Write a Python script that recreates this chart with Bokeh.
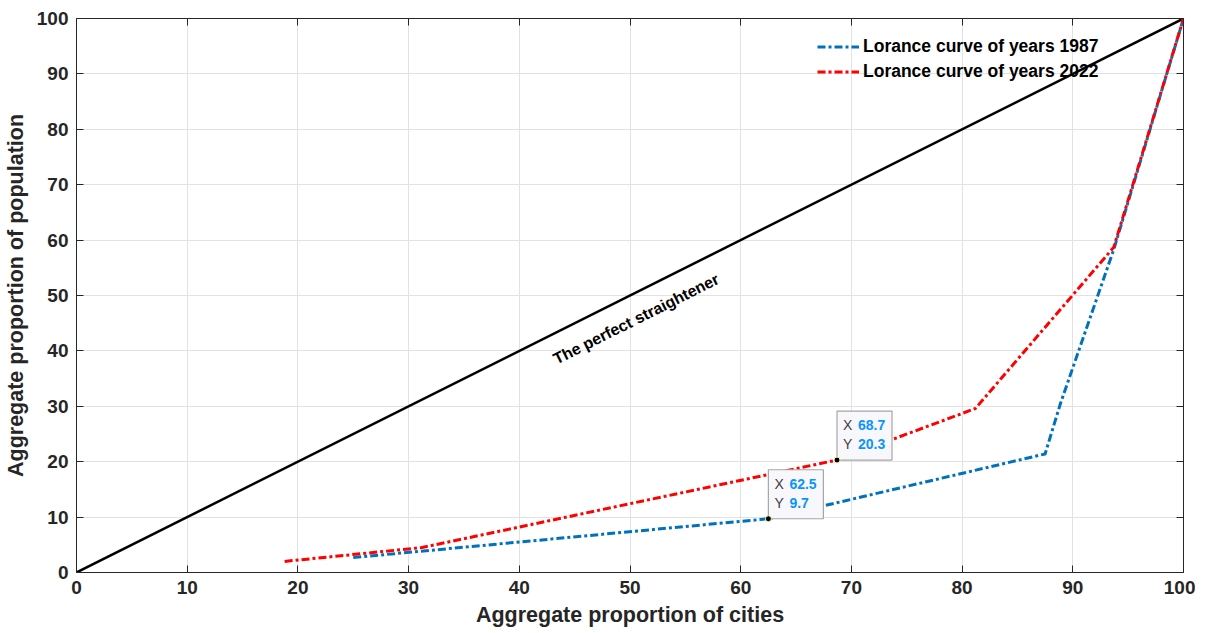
from bokeh.plotting import figure
from bokeh.models import Range1d, LinearAxis, Legend, LegendItem, FixedTicker
from bokeh.core.properties import value
from bokeh.embed import file_html
from bokeh.resources import INLINE
import math

# ---- data ----
x_1987 = [25.0, 62.5, 87.5, 88.9, 93.7, 100.0]
y_1987 = [2.7, 9.7, 21.4, 30.6, 58.3, 100.0]
x_2022 = [18.8, 31.2, 68.7, 81.2, 93.7, 100.0]
y_2022 = [2.0, 4.5, 20.3, 29.6, 58.7, 100.0]
diag_x = [0, 100]
diag_y = [0, 100]
tip_x = [62.5, 68.7]
tip_y = [9.7, 20.3]
ticks = [0, 10, 20, 30, 40, 50, 60, 70, 80, 90, 100]
diag_label = "The perfect straightener"
label_1987 = "Lorance curve of years 1987"
label_2022 = "Lorance curve of years 2022"

FONT = "Liberation Sans"
FW, FH = 1107, 554
AX = "#262626"

p = figure(frame_width=FW, frame_height=FH, output_backend="svg", toolbar_location=None,
           x_range=Range1d(0, 100), y_range=Range1d(0, 100),
           min_border_left=72, min_border_right=12, min_border_top=18, min_border_bottom=40)
p.outline_line_color = None
p.background_fill_color = "white"

p.xaxis.axis_label = "Aggregate proportion of cities"
p.yaxis.axis_label = "Aggregate proportion of population"
for ax in (p.xaxis[0], p.yaxis[0]):
    ax.ticker = FixedTicker(ticks=ticks)
    ax.minor_tick_line_color = None
    ax.major_tick_in = 7
    ax.major_tick_out = 0
    ax.axis_line_color = AX
    ax.major_tick_line_color = AX
    ax.major_label_text_font = FONT
    ax.major_label_text_font_style = "bold"
    ax.major_label_text_font_size = "19px"
    ax.major_label_text_color = AX
    ax.major_label_standoff = 8
    ax.axis_label_text_font = FONT
    ax.axis_label_text_font_style = "bold"
    ax.axis_label_text_font_size = "21.5px"
    ax.axis_label_text_color = AX
    ax.axis_label_standoff = 6

for loc in ("right", "above"):
    ax = LinearAxis(ticker=FixedTicker(ticks=ticks))
    ax.major_label_overrides = {t: "" for t in ticks}
    ax.major_label_standoff = 0
    ax.minor_tick_line_color = None
    ax.major_tick_in = 7
    ax.major_tick_out = 0
    ax.axis_line_color = AX
    ax.major_tick_line_color = AX
    p.add_layout(ax, loc)

for g in (p.xgrid[0], p.ygrid[0]):
    g.ticker = FixedTicker(ticks=ticks)
    g.grid_line_color = "#E2E2E2"
    g.grid_line_width = 1

p.line(diag_x, diag_y, line_color="black", line_width=2.5)
r87 = p.line(x_1987, y_1987, line_color="#0072BD", line_width=3, line_dash="8 3 3 3")
r22 = p.line(x_2022, y_2022, line_color="#FF0000", line_width=3, line_dash="8 3 3 3")

# diagonal label
p.text(x=[43.5], y=[37.0], text=[diag_label], angle=math.atan2(FH, FW),
       text_font=value(FONT), text_font_style="bold", text_font_size="16px",
       text_color="black", text_align="left", text_baseline="bottom")

# data tips
dx = 100.0 / FW
dy = 100.0 / FH
bw, bh = 55, 49
p.quad(left=tip_x, right=[x + bw * dx for x in tip_x],
       bottom=tip_y, top=[y + bh * dy for y in tip_y],
       fill_color="#F8F8FC", line_color="#A6A6A6", line_width=1.2)
p.scatter(tip_x, tip_y, size=6, fill_color="black", line_color="#FFF6B0", line_width=1)
for off, lab, vals in ((35, "X", tip_x), (16, "Y", tip_y)):
    ty = [y + off * dy for y in tip_y]
    p.text(x=[x + 6 * dx for x in tip_x], y=ty, text=[lab] * len(tip_x),
           text_font=value(FONT), text_font_size="14px", text_color="#404040",
           text_align="left", text_baseline="middle")
    p.text(x=[x + 21 * dx for x in tip_x], y=ty, text=[f"{v:g}" for v in vals],
           text_font=value(FONT), text_font_style="bold", text_font_size="14px",
           text_color="#0A94FF", text_align="left", text_baseline="middle")

legend = Legend(items=[LegendItem(label=label_1987, renderers=[r87]),
                       LegendItem(label=label_2022, renderers=[r22])],
                location=(741, 488))
legend.label_text_font = FONT
legend.label_text_font_style = "bold"
legend.label_text_font_size = "17.5px"
legend.label_text_color = "black"
legend.glyph_width = 42
legend.glyph_height = 25
legend.label_height = 25
legend.label_standoff = 4
legend.spacing = 0
legend.padding = 5
legend.border_line_color = None
legend.background_fill_alpha = 0
p.add_layout(legend, "center")

open("out.html", "w").write(file_html(p, INLINE))
